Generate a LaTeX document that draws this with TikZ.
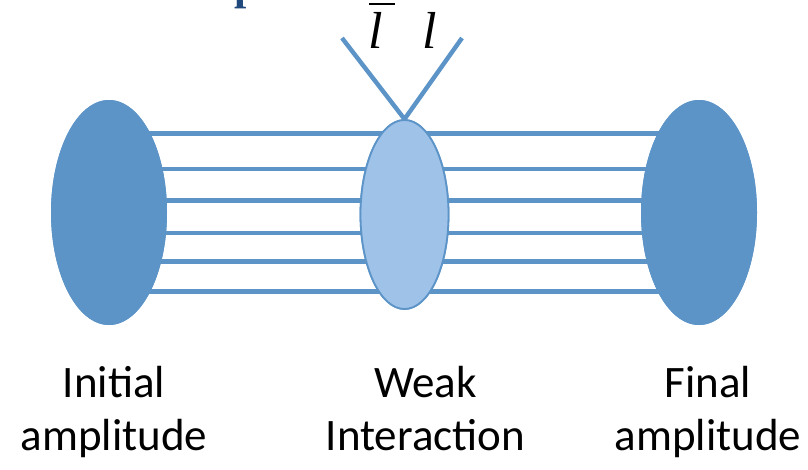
\documentclass[tikz,border=0pt]{standalone}
\usepackage{fontspec}
\setmainfont{Carlito}
\newfontfamily\lfont{Liberation Serif}
\usetikzlibrary{shapes.geometric}
\definecolor{mblue}{RGB}{93,148,200}
\definecolor{lblue}{RGB}{159,194,233}
\definecolor{dblue}{RGB}{31,73,125}
\tikzset{
  blob/.style={ellipse, fill=mblue, draw=none, inner sep=0pt, minimum width=116pt, minimum height=225pt},
  weak/.style={ellipse, fill=lblue, draw=mblue, line width=1.8pt, inner sep=0pt, minimum width=88pt, minimum height=189pt},
  wire/.style={draw=mblue, line width=4.6pt},
  lep/.style={font=\lfont\itshape\fontsize{52}{60}\selectfont, inner sep=0pt, anchor=base},
  lab/.style={font=\fontsize{45}{53}\selectfont, align=center, inner sep=0pt, anchor=base},
}
\begin{document}
\begin{tikzpicture}[x=1pt,y=-1pt]
\useasboundingbox (0,0) rectangle (808,469);
% cut-off title fragment
\node[font=\lfont\bfseries\fontsize{44}{50}\selectfont, text=dblue, inner sep=0pt, anchor=base west] (title) at (234,-1) {p};
% amplitudes
\node[blob] (L) at (109,212.5) {};
\node[blob] (R) at (699,212.5) {};
% wires (behind the ellipses)
\foreach \s in {79.2,43.5,11.8,-20.5,-49.2,-79.2}{
  \draw[wire] ([yshift=\s pt]L.center) -- ([yshift=\s pt]R.center);
}
\node[blob] (L2) at (L.center) {};
\node[blob] (R2) at (R.center) {};
% weak vertex
\coordinate (lt) at (342,38);
\coordinate (rt) at (462,38);
\node[weak] (M) at (404.5,214.5) {};
\draw[wire, line width=4.4pt] (lt) -- (M.north) -- (rt);
\node[weak] (M2) at (M.center) {};
% leptons
\node[lep] (lbar) at (376,48.5) {l};
\draw[line width=2.5pt] ([xshift=-7pt,yshift=44.5pt]lbar.base) -- ([xshift=19pt,yshift=44.5pt]lbar.base);
\node[lep] (l) at (430,48.5) {l};
% labels
\node[lab] (ti) at (114,450) {Initial\\amplitude};
\node[lab] (tw) at (425.5,450) {Weak\\Interaction};
\node[lab] (tf) at (708,450) {Final\\amplitude};
\end{tikzpicture}
\end{document}
